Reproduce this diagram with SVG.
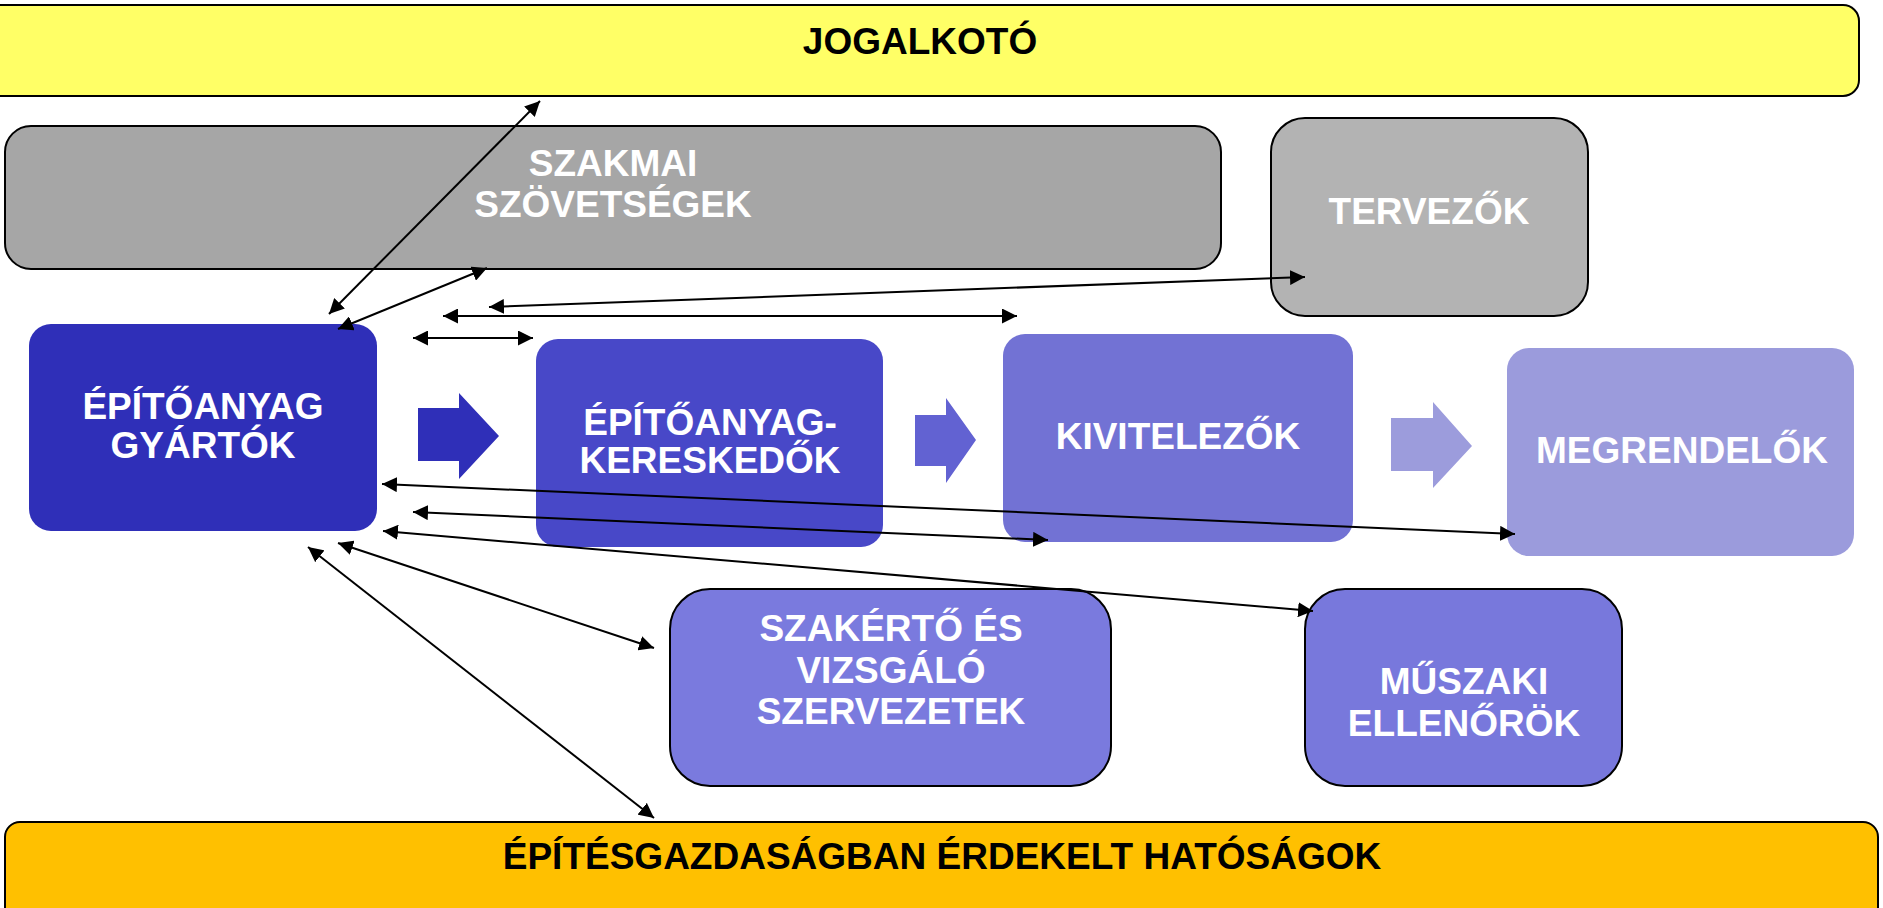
<svg xmlns="http://www.w3.org/2000/svg" width="1883" height="908" viewBox="0 0 1883 908">
<style>
text{font-family:"Liberation Sans",Arial,sans-serif;font-weight:bold;font-size:37px;text-anchor:middle}
.w{fill:#ffffff}
.k{fill:#000000}
.bd{stroke:#000000;stroke-width:2}
.cn{stroke:#000000;stroke-width:2;fill:none;marker-start:url(#ah);marker-end:url(#ah)}
</style>
<defs>
<marker id="ah" markerUnits="userSpaceOnUse" markerWidth="15" markerHeight="15" refX="15" refY="7.5" orient="auto-start-reverse" viewBox="0 0 15 15">
<path d="M0,0 L15,7.5 L0,15 z" fill="#000000"/>
</marker>
</defs>
<rect width="1883" height="908" fill="#ffffff"/>
<g id="jogalkoto">
<rect class="bd" x="-20" y="5" width="1879" height="91" rx="16" fill="#FFFF66"/>
<text class="k" x="920" y="54">JOGALKOTÓ</text>
</g>
<g id="szakmai">
<rect class="bd" x="5" y="126" width="1216" height="143" rx="26" fill="#A6A6A6"/>
<text class="w" x="613" y="176">SZAKMAI</text>
<text class="w" x="613" y="217">SZÖVETSÉGEK</text>
</g>
<g id="tervezok">
<rect class="bd" x="1271" y="118" width="317" height="198" rx="34" fill="#B3B3B3"/>
<text class="w" x="1429" y="224">TERVEZŐK</text>
</g>
<g id="gyartok">
<rect x="29" y="324" width="348" height="207" rx="22" fill="#2F2FB8"/>
<text class="w" x="203" y="419">ÉPÍTŐANYAG</text>
<text class="w" x="203" y="458">GYÁRTÓK</text>
</g>
<g id="kereskedok">
<rect x="536" y="339" width="347" height="208" rx="22" fill="#4848C8"/>
<text class="w" x="710" y="435">ÉPÍTŐANYAG-</text>
<text class="w" x="710" y="473">KERESKEDŐK</text>
</g>
<g id="kivitelezok">
<rect x="1003" y="334" width="350" height="208" rx="22" fill="#7272D4"/>
<text class="w" x="1178" y="449">KIVITELEZŐK</text>
</g>
<g id="megrendelok">
<rect x="1507" y="348" width="347" height="208" rx="22" fill="#9B9BDC"/>
<text class="w" x="1682" y="463">MEGRENDELŐK</text>
</g>
<g id="szakerto">
<rect class="bd" x="670" y="589" width="441" height="197" rx="40" fill="#7A7ADE"/>
<text class="w" x="891" y="641">SZAKÉRTŐ ÉS</text>
<text class="w" x="891" y="683">VIZSGÁLÓ</text>
<text class="w" x="891" y="724">SZERVEZETEK</text>
</g>
<g id="muszaki">
<rect class="bd" x="1305" y="589" width="317" height="197" rx="40" fill="#7878DC"/>
<text class="w" x="1464" y="694">MŰSZAKI</text>
<text class="w" x="1464" y="736">ELLENŐRÖK</text>
</g>
<g id="hatosagok">
<rect class="bd" x="5" y="822" width="1873" height="120" rx="15" fill="#FFC000"/>
<text class="k" x="942" y="869">ÉPÍTÉSGAZDASÁGBAN ÉRDEKELT HATÓSÁGOK</text>
</g>
<g id="flow-arrows">
<polygon points="418,408 459,408 459,393 499,436 459,479 459,461 418,461" fill="#2F2FB8"/>
<polygon points="915,415 946,415 946,398 976,440 946,483 946,466 915,466" fill="#6262D2"/>
<polygon points="1391,418 1433,418 1433,402 1472,446 1433,488 1433,471 1391,471" fill="#9C9CDC"/>
</g>
<g id="connectors">
<line class="cn" x1="329" y1="314" x2="540" y2="101"/>
<line class="cn" x1="338" y1="329" x2="487" y2="268"/>
<line class="cn" x1="489" y1="307" x2="1305" y2="277"/>
<line class="cn" x1="443" y1="316" x2="1017" y2="316"/>
<line class="cn" x1="413" y1="338" x2="533" y2="338"/>
<line class="cn" x1="382" y1="484" x2="1515" y2="534"/>
<line class="cn" x1="413" y1="512" x2="1048" y2="540"/>
<line class="cn" x1="383" y1="531" x2="1313" y2="611"/>
<line class="cn" x1="338" y1="543" x2="654" y2="648"/>
<line class="cn" x1="308" y1="547" x2="654" y2="818"/>
</g>
</svg>
